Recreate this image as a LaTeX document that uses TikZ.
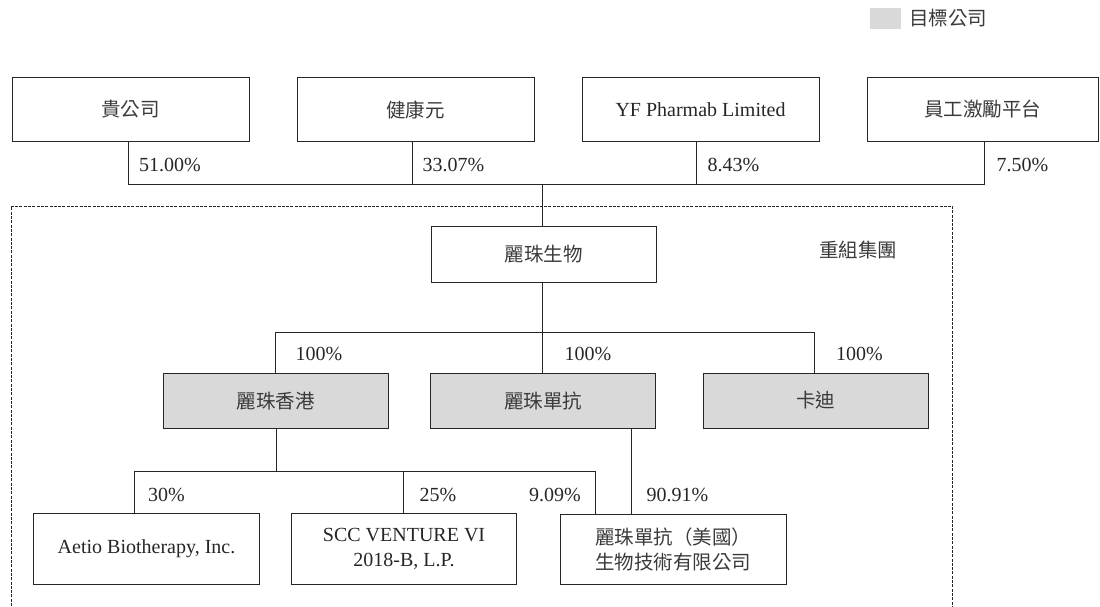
\documentclass[tikz,border=0pt]{standalone}
\usepackage{fontspec}
\setmainfont{Liberation Serif}
\newfontfamily\cjk{Noto Sans CJK TC}
\definecolor{tgray}{HTML}{D9D9D9}
\definecolor{ink}{HTML}{262626}
\definecolor{cjkink}{HTML}{3A3A3A}
\begin{document}
\begin{tikzpicture}[x=1pt,y=-1pt,
  every node/.style={text=ink,font=\fontsize{20}{25}\selectfont},
  cjkt/.style={text=cjkink,font=\cjk\fontsize{19.5}{25}\selectfont},
  box/.style={draw=ink,line width=0.9pt,inner sep=0pt,minimum width=225pt,align=center},
  topbox/.style={box,minimum width=237pt,minimum height=64.4pt},
  midbox/.style={box,minimum height=55pt},
  target/.style={midbox,fill=tgray},
  lowbox/.style={box,minimum height=71pt},
  pct/.style={anchor=base west,inner sep=0pt},
  pctr/.style={anchor=base east,inner sep=0pt},
  link/.style={draw=ink,line width=0.9pt},
  frame/.style={draw=ink,line width=0.8pt,dash pattern=on 3pt off 1.3pt}]
\useasboundingbox (0,0) rectangle (1100,606);

% legend
\fill[tgray] (870,8) rectangle (901,28.7);
\node[anchor=west,inner sep=0pt,cjkt] (legend) at (909,18.3) {目標公司};

% top shareholders
\node[topbox,cjkt] (b1) at (130.5,109.5) {貴公司};
\node[topbox,cjkt] (b2) at (415.5,109.5) {健康元};
\node[topbox] (b3) at (700.5,109.5) {YF Pharmab Limited};
\node[topbox,minimum width=231pt,cjkt] (b4) at (982.5,109.5) {員工激勵平台};

\coordinate (jt) at (542.3,184);
\draw[link] ([xshift=-1.8pt]b1.south) |- (jt);
\draw[link] ([xshift=-2.8pt]b2.south) |- (jt);
\draw[link] ([xshift=-3.8pt]b3.south) |- (jt);
\draw[link] ([xshift=1.8pt]b4.south) |- (jt);
\node[pct] (p1) at (139,171) {51.00\%};
\node[pct] (p2) at (422.5,171) {33.07\%};
\node[pct] (p3) at (707.5,171) {8.43\%};
\node[pct] (p4) at (996.5,171) {7.50\%};

% restructured group frame
\draw[frame] (11,606) -- (11,206) -- (952.7,206) -- (952.7,606);
\node[cjkt] (grp) at (858,250) {重組集團};

% Livzon Bio
\node[midbox,minimum height=55.5pt,cjkt] (lz) at (543.5,254.6) {麗珠生物};
\draw[link] (jt) -- (jt |- lz.north);

% level 2
\node[target,cjkt] (hk) at (275.8,401.2) {麗珠香港};
\node[target,cjkt] (dk) at (543.2,401.2) {麗珠單抗};
\node[target,cjkt] (kd) at (815.8,400.5) {卡迪};
\coordinate (jm) at (542.3,332.3);
\draw[link] (lz.south -| jm) -- (jm |- dk.north);
\draw[link] ([xshift=-0.5pt]hk.north) |- (jm) -| ([xshift=-1.5pt]kd.north);
\node[pct] (q1) at (295.5,360) {100\%};
\node[pct] (q2) at (564.5,360) {100\%};
\node[pct] (q3) at (836,360) {100\%};

% level 3
\node[lowbox,minimum width=225.6pt] (ae) at (146.5,548.8) {Aetio Biotherapy, Inc.};
\node[lowbox,minimum width=225.4pt] (scc) at (404,548.8) {SCC VENTURE VI\\2018-B, L.P.};
\node[lowbox,minimum width=225.3pt,minimum height=70.3pt,cjkt] (us) at (673.4,549.2) {麗珠單抗（美國）\\生物技術有限公司};
\coordinate (jb) at (276.7,471.7);
\draw[link] (hk.south -| jb) -- (jb);
\draw[link] ([xshift=-12.2pt]ae.north) |- ([xshift=-77.7pt]us.north |- jb) -- ([xshift=-77.7pt]us.north);
\draw[link] ([xshift=-0.7pt]scc.north) -- ([xshift=-0.7pt]scc.north |- jb);
\draw[link] ([xshift=87.8pt]dk.south) -- ([xshift=87.8pt]dk.south |- us.north);
\node[pct] (r1) at (148,501) {30\%};
\node[pct] (r2) at (419.5,501) {25\%};
\node[pctr] (r3) at (581,501) {9.09\%};
\node[pct] (r4) at (646.5,501) {90.91\%};
\end{tikzpicture}
\end{document}
